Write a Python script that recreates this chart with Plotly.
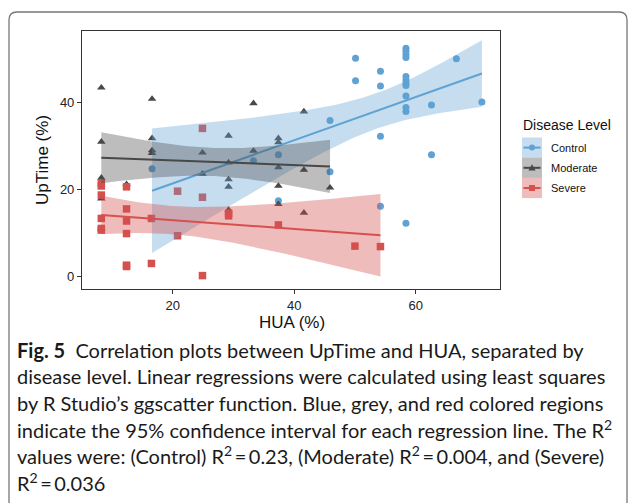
import numpy as np
import plotly.graph_objects as go

# ---------------- data ----------------
groups = ["Control", "Moderate", "Severe"]

control_hua = [16.6, 33.3, 37.4, 37.4, 45.9, 45.9, 50.1, 50.1, 54.2, 54.2, 54.2, 54.2,
               58.4, 58.4, 58.4, 58.4, 58.4, 58.4, 58.4, 58.4, 58.4, 58.4, 58.4, 58.4,
               62.6, 62.6, 66.7, 70.9]
control_uptime = [24.8, 26.6, 28.0, 17.4, 35.9, 24.1, 50.3, 45.1, 47.3, 43.9, 32.3, 16.1,
                  52.6, 51.9, 51.1, 50.5, 46.1, 45.3, 44.6, 44.0, 41.6, 38.9, 38.0, 12.2,
                  39.5, 28.0, 50.2, 40.2]

moderate_hua = [8.25, 8.25, 8.25, 8.25, 8.25, 12.4, 16.6, 16.6, 16.6, 16.6, 24.9, 24.9,
                29.2, 29.2, 29.2, 29.2, 29.2, 33.3, 33.3, 37.4, 37.4, 37.4, 37.4, 37.4,
                41.6, 41.6, 41.6, 45.9]
moderate_uptime = [43.5, 31.0, 22.7, 17.9, 11.0, 21.2, 40.9, 31.8, 29.0, 28.4, 28.5, 23.6,
                   32.4, 26.2, 22.3, 20.6, 15.3, 39.9, 28.9, 31.8, 30.9, 25.1, 20.8, 16.6,
                   38.0, 24.5, 14.6, 20.4]

severe_hua = [8.25, 8.25, 8.25, 8.25, 8.25, 8.25, 12.4, 12.4, 12.4, 12.4, 12.4, 12.4,
              16.5, 16.5, 20.8, 20.8, 24.9, 24.9, 24.9, 29.2, 29.2, 37.4, 50.0, 54.2]
severe_uptime = [21.4, 20.8, 18.7, 13.3, 11.0, 10.6, 20.6, 15.5, 12.7, 9.8, 2.5, 2.2,
                 13.3, 2.9, 19.6, 9.3, 34.1, 18.2, 0.1, 14.5, 13.9, 11.8, 6.9, 6.8]

x_ticks = [20, 40, 60]
y_ticks = [0, 20, 40]

caption_lines = [
    "<b>Fig. 5</b>  Correlation plots between UpTime and HUA, separated by",
    "disease level. Linear regressions were calculated using least squares",
    "by R Studio’s ggscatter function. Blue, grey, and red colored regions",
    "indicate the 95% confidence interval for each regression line. The R<sup>2</sup>",
    "values were: (Control) R<sup>2</sup>\u2009=\u20090.23, (Moderate) R<sup>2</sup>\u2009=\u20090.004, and (Severe)",
    "R<sup>2</sup>\u2009=\u20090.036",
]

# ---------------- styling ----------------
colors = {"Control": "#5FA2D3", "Moderate": "#484848", "Severe": "#D6504E"}
fills = {"Control": "rgba(95,162,211,0.36)", "Moderate": "rgba(72,72,72,0.36)",
         "Severe": "rgba(214,80,78,0.38)"}
symbols = {"Control": "circle", "Moderate": "triangle-up", "Severe": "square"}
SANS = "Liberation Sans, Arial, sans-serif"

W, H = 630, 503
L, R, T, B = 82, 500, 31, 289  # panel pixel box


def px2x(px):
    return (px - L) / (R - L)


def py2y(py):
    return 1 - (py - T) / (B - T)


def t_crit(df, z=1.959964):
    g1 = (z ** 3 + z) / 4
    g2 = (5 * z ** 5 + 16 * z ** 3 + 3 * z) / 96
    g3 = (3 * z ** 7 + 19 * z ** 5 + 17 * z ** 3 - 15 * z) / 384
    return z + g1 / df + g2 / df ** 2 + g3 / df ** 3


def fit(x, y):
    x = np.asarray(x, float)
    y = np.asarray(y, float)
    n = len(x)
    b, a = np.polyfit(x, y, 1)
    xs = np.linspace(x.min(), x.max(), 80)
    yh = a + b * xs
    resid = y - (a + b * x)
    s = np.sqrt(np.sum(resid ** 2) / (n - 2))
    xm = x.mean()
    sxx = np.sum((x - xm) ** 2)
    se = s * np.sqrt(1 / n + (xs - xm) ** 2 / sxx)
    t = t_crit(n - 2)
    return xs, yh, yh - t * se, yh + t * se


data = {
    "Control": (control_hua, control_uptime),
    "Moderate": (moderate_hua, moderate_uptime),
    "Severe": (severe_hua, severe_uptime),
}

fig = go.Figure()

# points
for g in groups:
    x, y = data[g]
    fig.add_trace(go.Scatter(
        x=x, y=y, mode="markers", showlegend=False,
        marker=dict(symbol=symbols[g], color=colors[g], size=7.5 if g != "Control" else 7,
                    line=dict(width=0)),
    ))

# regression ribbons + lines
for g in groups:
    x, y = data[g]
    xs, yh, lo, hi = fit(x, y)
    fig.add_trace(go.Scatter(
        x=np.concatenate([xs, xs[::-1]]), y=np.concatenate([hi, lo[::-1]]),
        fill="toself", fillcolor=fills[g], line=dict(width=0), mode="lines",
        hoverinfo="skip", showlegend=False,
    ))
    fig.add_trace(go.Scatter(
        x=xs, y=yh, mode="lines", line=dict(color=colors[g], width=2),
        showlegend=False,
    ))

axis_common = dict(
    showgrid=False, zeroline=False, showline=True, mirror=True,
    linecolor="#333333", linewidth=1.1, ticks="outside", ticklen=4,
    tickcolor="#333333", tickwidth=1,
    tickfont=dict(family=SANS, size=13, color="#222222"),
)

fig.update_layout(
    width=W, height=H,
    margin=dict(l=L, r=W - R, t=T, b=H - B, pad=0),
    paper_bgcolor="white", plot_bgcolor="white",
    xaxis=dict(range=[5.07, 73.88], tickvals=x_ticks, **axis_common),
    yaxis=dict(range=[-3.0, 56.6], tickvals=y_ticks, **axis_common),
    showlegend=False,
)

shapes = []
annotations = []

# outer rounded frame
x0, x1, y0, y1, r = px2x(9), px2x(627), py2y(12), py2y(520), (8 / (R - L))
ry = 8 / (B - T)
path = (f"M {x0},{y1} L {x0},{y0 - ry} Q {x0},{y0} {x0 + r},{y0} "
        f"L {x1 - r},{y0} Q {x1},{y0} {x1},{y0 - ry} L {x1},{y1}")
shapes.append(dict(type="path", xref="paper", yref="paper", path=path,
                   line=dict(color="#777777", width=1.3), layer="below"))

# axis titles
annotations.append(dict(text="HUA (%)", xref="paper", yref="paper", x=px2x(292), y=py2y(322),
                        showarrow=False, xanchor="center", yanchor="middle",
                        font=dict(family=SANS, size=17, color="#111111")))
annotations.append(dict(text="UpTime (%)", xref="paper", yref="paper", x=px2x(42), y=py2y(160),
                        showarrow=False, xanchor="center", yanchor="middle", textangle=-90,
                        font=dict(family=SANS, size=17, color="#111111")))

# legend (manual)
annotations.append(dict(text="Disease Level", xref="paper", yref="paper", x=px2x(521), y=py2y(125),
                        showarrow=False, xanchor="left", yanchor="middle",
                        font=dict(family=SANS, size=14, color="#111111")))
key_top = 137.5
key_h = 20.2
for i, g in enumerate(groups):
    t0 = key_top + i * key_h
    cy = t0 + key_h / 2
    shapes.append(dict(type="rect", xref="paper", yref="paper",
                       x0=px2x(522), x1=px2x(542), y0=py2y(t0), y1=py2y(t0 + key_h),
                       fillcolor=fills[g], line=dict(width=0)))
    shapes.append(dict(type="line", xref="paper", yref="paper",
                       x0=px2x(523.5), x1=px2x(540.5), y0=py2y(cy), y1=py2y(cy),
                       line=dict(color=colors[g], width=2)))
    mx, ms = 532, 3
    if g == "Control":
        shapes.append(dict(type="circle", xref="paper", yref="paper",
                           x0=px2x(mx - ms), x1=px2x(mx + ms), y0=py2y(cy - ms), y1=py2y(cy + ms),
                           fillcolor=colors[g], line=dict(width=0)))
    elif g == "Moderate":
        p = (f"M {px2x(mx - 3.6)},{py2y(cy + 2.6)} L {px2x(mx + 3.6)},{py2y(cy + 2.6)} "
             f"L {px2x(mx)},{py2y(cy - 3.6)} Z")
        shapes.append(dict(type="path", xref="paper", yref="paper", path=p,
                           fillcolor=colors[g], line=dict(width=0)))
    else:
        shapes.append(dict(type="rect", xref="paper", yref="paper",
                           x0=px2x(mx - 3), x1=px2x(mx + 3), y0=py2y(cy - 3), y1=py2y(cy + 3),
                           fillcolor=colors[g], line=dict(width=0)))
    annotations.append(dict(text=g, xref="paper", yref="paper", x=px2x(549), y=py2y(cy),
                            showarrow=False, xanchor="left", yanchor="middle",
                            font=dict(family=SANS, size=11, color="#111111")))

# caption
cap_y = [350, 376.3, 402.6, 428.9, 455.2, 481.5]
for line, cy in zip(caption_lines, cap_y):
    annotations.append(dict(text=line, xref="paper", yref="paper", x=px2x(15), y=py2y(cy),
                            showarrow=False, xanchor="left", yanchor="middle", align="left",
                            font=dict(family="Lato", size=20, color="#1a1a1a")))

fig.update_layout(shapes=shapes, annotations=annotations)
fig.write_html("out.html", config={"displayModeBar": False},
               post_script="document.body.style.margin='0';document.body.style.overflow='hidden';")
